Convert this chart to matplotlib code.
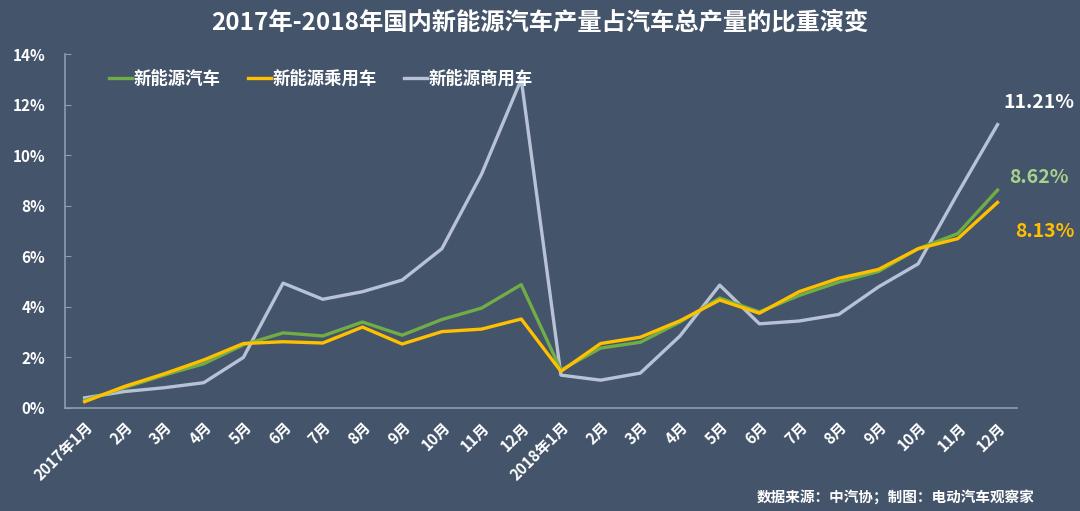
import numpy as np
import matplotlib
matplotlib.use("Agg")
from matplotlib import pyplot as plt

plt.rcParams['font.family'] = ['Noto Sans CJK SC', 'DejaVu Sans']

months = ["2017年1月", "2月", "3月", "4月", "5月", "6月", "7月", "8月", "9月", "10月", "11月", "12月",
          "2018年1月", "2月", "3月", "4月", "5月", "6月", "7月", "8月", "9月", "10月", "11月", "12月"]

# share of NEV production in total vehicle production (%)
nev_all = [0.3, 0.8, 1.3, 1.75, 2.5, 2.97, 2.85, 3.4, 2.88, 3.5, 3.95, 4.88,
           1.5, 2.37, 2.6, 3.4, 4.35, 3.8, 4.45, 4.98, 5.4, 6.3, 6.9, 8.62]
nev_passenger = [0.25, 0.85, 1.35, 1.9, 2.55, 2.62, 2.57, 3.2, 2.53, 3.02, 3.12, 3.52,
                 1.45, 2.55, 2.8, 3.45, 4.27, 3.75, 4.6, 5.13, 5.48, 6.3, 6.7, 8.13]
nev_commercial = [0.4, 0.65, 0.8, 1.0, 2.0, 4.94, 4.3, 4.6, 5.06, 6.3, 9.25, 13.0,
                  1.3, 1.1, 1.38, 2.85, 4.86, 3.33, 3.44, 3.7, 4.79, 5.7, 8.5, 11.21]

bg = "#44546a"
c_green = "#70ad47"
c_yellow = "#ffc000"
c_gray = "#b7c2d6"

fig = plt.figure(figsize=(10.8, 5.11), dpi=100, facecolor=bg)
ax = fig.add_axes([0.060, 0.2016, 0.882, 0.6926])
ax.set_facecolor(bg)

x = np.arange(len(months))
ax.plot(x, nev_all, color=c_green, lw=2.4, label="新能源汽车", zorder=3)
ax.plot(x, nev_passenger, color=c_yellow, lw=2.4, label="新能源乘用车", zorder=4)
ax.plot(x, nev_commercial, color=c_gray, lw=2.4, label="新能源商用车", zorder=2)

ax.set_xlim(-0.5, 23.5)
ax.set_ylim(0, 14)
ax.set_yticks(np.arange(0, 15, 2))
ax.set_yticklabels(["%d%%" % v for v in range(0, 15, 2)])
ax.set_xticks(x)
ax.set_xticklabels(months, rotation=45, ha="right", rotation_mode="anchor")

for s in ["top", "right"]:
    ax.spines[s].set_visible(False)
for s in ["left", "bottom"]:
    ax.spines[s].set_color("#8e9bb0")
    ax.spines[s].set_linewidth(1.2)
ax.tick_params(axis="y", direction="in", length=4, color="#8e9bb0", pad=14,
               labelcolor="white", labelsize=11)
ax.tick_params(axis="x", length=0, pad=8, labelcolor="white", labelsize=11)
for t in ax.get_xticklabels() + ax.get_yticklabels():
    t.set_fontweight("bold")

leg = ax.legend(loc="upper left", bbox_to_anchor=(0.03, 1.0), ncol=3, frameon=False,
                handlelength=1.3, handletextpad=0.1, columnspacing=1.6,
                prop={"size": 12.5, "weight": "bold"})
for t in leg.get_texts():
    t.set_color("white")

# end labels
ax.annotate("11.21%", (23, nev_commercial[-1]), xytext=(30, 16), textcoords="offset points",
            ha="center", va="center", color="white", fontsize=14, fontweight="bold")
ax.annotate("8.62%", (23, nev_all[-1]), xytext=(30, 9), textcoords="offset points",
            ha="center", va="center", color="#a9d18e", fontsize=14, fontweight="bold")
ax.annotate("8.13%", (23, nev_passenger[-1]), xytext=(34, -21), textcoords="offset points",
            ha="center", va="center", color=c_yellow, fontsize=14, fontweight="bold")

fig.text(0.5, 0.955, "2017年-2018年国内新能源汽车产量占汽车总产量的比重演变",
         ha="center", va="center", color="white", fontsize=17.5, fontweight="bold")
fig.text(0.958, 0.027, "数据来源：中汽协；制图：电动汽车观察家",
         ha="right", va="center", color="white", fontsize=10.5, fontweight="bold")

fig.savefig("out.png", dpi=100, facecolor=bg)
